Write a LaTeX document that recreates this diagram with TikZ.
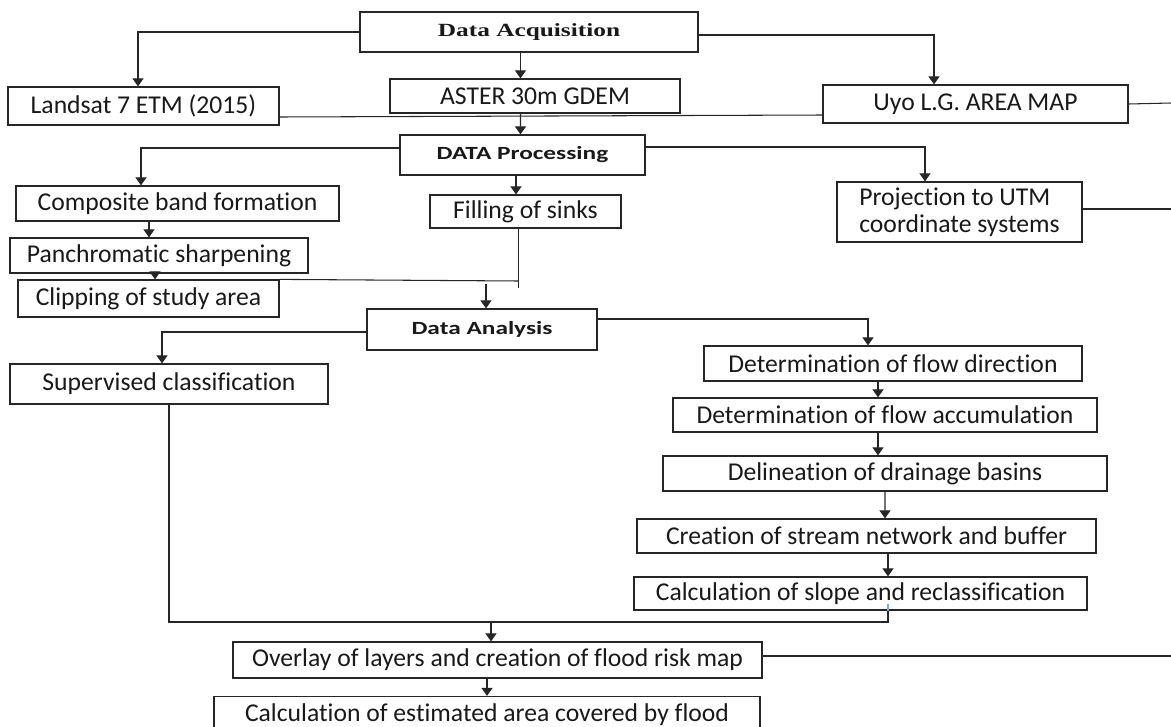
\documentclass[tikz,border=0pt]{standalone}
\usepackage{fontspec}
\setmainfont{Carlito}[Ligatures=NoCommon]
\newfontfamily\hdserif[FakeStretch=1.36]{Liberation Serif}
\newfontfamily\hdsans[FakeStretch=1.36,Ligatures=NoCommon]{Carlito}
\usepackage{tikz}
\usetikzlibrary{arrows.meta,positioning,calc}
\definecolor{stub}{RGB}{120,170,225}

\begin{document}
\begin{tikzpicture}[x=0.02cm, y=-0.02cm,
  box/.style={rectangle, draw=black!85, line width=0.7pt, fill=white, inner sep=2pt,
              font=\fontsize{14.6}{15.2}\selectfont, align=center, text=black!90},
  hdr/.style={box, font=\hdsans\bfseries\fontsize{10.6}{12}\selectfont},
  acq/.style={box, font=\hdserif\bfseries\fontsize{10.6}{12}\selectfont},
  arr/.style={draw=black!85, line width=0.6pt, -{Triangle[width=0.22cm,length=0.16cm]}},
  ln/.style={draw=black!85, line width=0.6pt},
]
\useasboundingbox (0,0) rectangle (1171,727);

% Boxes
\node[acq, minimum width=6.76cm, minimum height=0.8cm] (DA) at (529,32) {Data Acquisition};
\node[box, minimum width=5.42cm, minimum height=0.76cm] (LS) at (143.5,106) {Landsat 7 ETM (2015)};
\node[box, minimum width=5.8cm, minimum height=0.68cm] (AS) at (535,96) {ASTER 30m GDEM};
\node[box, minimum width=6.1cm, minimum height=0.76cm] (UY) at (975.5,104) {Uyo L.G. AREA MAP};
\node[hdr, minimum width=4.9cm, minimum height=0.8cm] (DP) at (522.5,155) {DATA Processing};
\node[box, minimum width=6.46cm, minimum height=0.7cm] (CB) at (177.5,203.5) {Composite band formation};
\node[box, minimum width=3.82cm, minimum height=0.66cm] (FS) at (525.5,211.5) {Filling of sinks};
\node[box, minimum width=4.9cm, minimum height=1.2cm, align=left] (PU) at (959.5,212) {Projection to UTM\\coordinate systems};
\node[box, minimum width=5.96cm, minimum height=0.7cm] (PS) at (159,255.5) {Panchromatic sharpening};
\node[box, minimum width=5.22cm, minimum height=0.74cm] (CS) at (148.5,298.5) {Clipping of study area};
\node[hdr, minimum width=4.6cm, minimum height=0.82cm] (AN) at (482,329.5) {Data Analysis};
\node[box, minimum width=6.36cm, minimum height=0.8cm] (SC) at (169,384) {Supervised classification};
\node[box, minimum width=7.56cm, minimum height=0.7cm] (FD) at (893,363.5) {Determination of flow direction};
\node[box, minimum width=8.48cm, minimum height=0.68cm] (FA) at (885,415) {Determination of flow accumulation};
\node[box, minimum width=8.88cm, minimum height=0.7cm] (DB) at (885,473.5) {Delineation of drainage basins};
\node[box, minimum width=9.18cm, minimum height=0.68cm] (SN) at (866.5,536) {Creation of stream network and buffer};
\node[box, minimum width=9.06cm, minimum height=0.66cm] (SR) at (860.5,593.5) {Calculation of slope and reclassification};
\node[box, minimum width=10.58cm, minimum height=0.72cm] (OL) at (497.5,660) {Overlay of layers and creation of flood risk map};
\node[box, minimum width=10.92cm, minimum height=0.74cm] (EA) at (487,715) {Calculation of estimated area covered by flood};

% Free ends and joints
\coordinate (UYend) at (1171,103);
\coordinate (PUend) at (1171,209);
\coordinate (OLend) at (1171,656);
\coordinate (J) at (518.5,281);
\coordinate (M) at (491,622);

% Links
\draw[arr] (DA.west) -| ($(LS.north)+(-5.5,0)$);
\draw[arr] ($(DA.east)+(0,3)$) -| ($(UY.north)+(-41.5,0)$);
\draw[arr] ($(DA.south)+(-8.5,0)$) -- ($(AS.north)+(-14.5,0)$);
\draw[ln] ($(LS.east)+(0,11)$) -- ($(UY.west)+(0,11)$);
\draw[ln] (UY.east) -- (UYend);
\draw[arr] ($(AS.south)+(-14.5,0)$) -- ($(DP.north)+(-2,0)$);
\draw[arr] ($(DP.west)+(0,-7)$) -| ($(CB.north)+(-36.5,0)$);
\draw[arr] ($(DP.east)+(0,-8)$) -| ($(PU.north)+(-34.5,0)$);
\draw[arr] ($(DP.south)+(-6.5,0)$) -- ($(FS.north)+(-9.5,0)$);
\draw[ln] ($(PU.east)+(0,-3)$) -- (PUend);
\draw[arr] ($(CB.south)+(-28.5,0)$) -- ($(PS.north)+(-10,0)$);
\draw[arr] ($(PS.south)+(-4,0)$) -- ($(CS.north)+(6.5,0)$);
\draw[ln] ($(FS.south)+(-7,0)$) -- ($(J)+(0,7)$);
\draw[ln] (CS.north east) -- (J);
\draw[arr] ($(J)+(-32.5,3)$) -- ($(AN.north)+(4,0)$);
\draw[arr] ($(AN.west)+(0,2.5)$) -| ($(SC.north)+(-7,0)$);
\draw[arr] ($(AN.east)+(0,-10.5)$) -| ($(FD.north)+(-25,0)$);
\draw[arr] ($(FD.south)+(-15,0)$) -- ($(FA.north)+(-7,0)$);
\draw[arr] ($(FA.south)+(-7,0)$) -- ($(DB.north)+(-7,0)$);
\draw[arr] (DB.south) -- ($(SN.north)+(18.5,0)$);
\draw[arr] ($(SN.south)+(21.5,0)$) -- ($(SR.north)+(27.5,0)$);
\draw[ln, draw=stub] ($(SR.south)+(27.5,-7)$) -- ($(SR.south)+(27.5,0)$);
\draw[ln] ($(SR.south)+(27.5,0)$) |- (M) -| (SC.south);
\draw[arr] (M) -- ($(OL.north)+(-6.5,0)$);
\draw[ln] ($(OL.east)+(0,-4)$) -- (OLend);
\draw[arr] ($(OL.south)+(-10.5,0)$) -- (EA.north);
\end{tikzpicture}
\end{document}
